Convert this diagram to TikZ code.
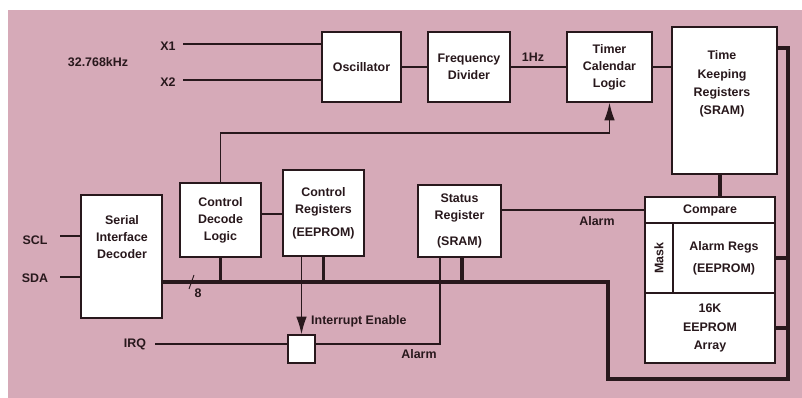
\documentclass[tikz,border=0pt]{standalone}
\usepackage{fontspec}
\setmainfont{Liberation Sans}
\usetikzlibrary{arrows.meta}
\definecolor{paper}{RGB}{214,170,184}
\definecolor{ink}{RGB}{40,24,28}
\begin{document}
\begin{tikzpicture}[x=0.03cm,y=-0.03cm,
  font=\fontsize{10.6}{14.5}\selectfont\bfseries,
  blk/.style={draw=ink,fill=white,line width=1.2pt,inner sep=0pt,align=center,text=ink},
  wire/.style={draw=ink,line width=1.2pt},
  bus/.style={draw=ink,line width=3.4pt,line join=miter},
  headarrow/.style={-{Latex[length=15pt,width=9pt]}},
  lbl/.style={inner sep=0pt,text=ink,align=center}]
% Page and Background
\useasboundingbox (0,0) rectangle (802,398);
\fill[white] (0,0) rectangle (802,398);
\fill[paper] (8,10) rectangle (802,398);
% Clock Chain
\node[blk,minimum width=2.37cm,minimum height=2.10cm] (osc) at (361.5,67) {Oscillator};
\node[blk,minimum width=2.46cm,minimum height=2.10cm] (frq) at (469,67) {Frequency\\Divider};
\node[blk,minimum width=2.55cm,minimum height=2.10cm] (tmr) at (609.5,67) {Timer\\Calendar\\Logic};
\node[blk,minimum width=3.15cm,minimum height=4.41cm] (tkr) at (724.5,100.5) {};
\node[lbl] (tkrtxt) at (722,84) {Time\\[1pt]Keeping\\[1pt]Registers\\[1pt](SRAM)};
% Serial Side
\node[blk,minimum width=2.43cm,minimum height=3.69cm] (sid) at (121.5,256.5) {};
\node[lbl] (sidtxt) at (122,237) {Serial\\Interface\\Decoder};
\node[blk,minimum width=2.43cm,minimum height=2.22cm] (cdl) at (220.5,220) {Control\\Decode\\Logic};
\node[blk,minimum width=2.43cm,minimum height=2.58cm] (creg) at (323.5,213) {Control\\Registers\\[5pt](EEPROM)};
\node[blk,minimum width=2.49cm,minimum height=2.16cm] (sreg) at (459.5,221) {Status\\Register\\[7pt](SRAM)};
\node[blk,minimum width=0.81cm,minimum height=0.84cm] (irq) at (301.5,349) {};
% Alarm Block
\node[blk,minimum width=3.90cm,minimum height=0.78cm] (cmp) at (710,210) {Compare};
\node[blk,minimum width=0.84cm,minimum height=2.10cm] (mask) at (659,258) {\rotatebox{90}{Mask}};
\node[blk,minimum width=3.06cm,minimum height=2.10cm] (areg) at (724,258) {Alarm Regs\\[4pt](EEPROM)};
\node[blk,minimum width=3.90cm,minimum height=2.10cm] (arr) at (710,328) {16K\\[2pt]EEPROM\\[1pt]Array};
% Pin and Signal Labels
\node[lbl] (khz) at (98,62) {32.768kHz};
\node[lbl] (xa) at (168,46) {X1};
\node[lbl] (xb) at (168,82) {X2};
\node[lbl] (scl) at (35,240) {SCL};
\node[lbl] (sda) at (35,278) {SDA};
\node[lbl] (irqtxt) at (135,344) {IRQ};
\node[lbl] (hz) at (533,57) {1Hz};
\node[lbl,anchor=west] (ien) at (311,321) {Interrupt Enable};
\node[lbl] (alma) at (597,221) {Alarm};
\node[lbl] (almb) at (419,354) {Alarm};
\node[lbl] (width) at (198,293) {8};
% Thin Wires
\draw[wire] (183,44) -- (osc.west |- 0,44);
\draw[wire] (183,80) -- (osc.west |- 0,80);
\draw[wire] (osc) -- (frq);
\draw[wire] (frq) -- (tmr);
\draw[wire] (tmr.east) -- (tkr.west |- tmr.east);
\draw[wire] (60,236) -- (sid.west |- 0,236);
\draw[wire] (60,277) -- (sid.west |- 0,277);
\draw[wire] (cdl.east |- 0,214) -- (creg.west |- 0,214);
\draw[wire] (sreg.east |- cmp.west) -- (cmp.west);
\draw[wire,headarrow] (cdl.north) |- (tmr.south |- 0,133) -- (tmr.south);
\draw[wire,headarrow] (irq |- creg.south) -- (irq.north);
\draw[wire] (155,344) -- (irq.west |- 0,344);
\draw[wire] (irq.east |- 0,344) -- (440,344) -- (440,0 |- sreg.south);
% Data Bus
\draw[bus] (tkr.east |- 0,48) -- (788,48) -- (788,379) -- (608,379) -- (608,282) -- (sid.east |- 0,282);
\draw[bus] (cdl.south) -- (cdl.south |- 0,282);
\draw[bus] (creg.south) -- (creg.south |- 0,282);
\draw[bus] (462,0 |- sreg.south) -- (462,282);
\draw[bus] (720,0 |- tkr.south) -- (720,0 |- cmp.north);
\draw[bus] (areg.east) -- (788,0 |- areg.east);
\draw[bus] (arr.east) -- (788,0 |- arr.east);
\draw[wire,line width=0.8pt] (189,289) -- (194,275);
\end{tikzpicture}
\end{document}
